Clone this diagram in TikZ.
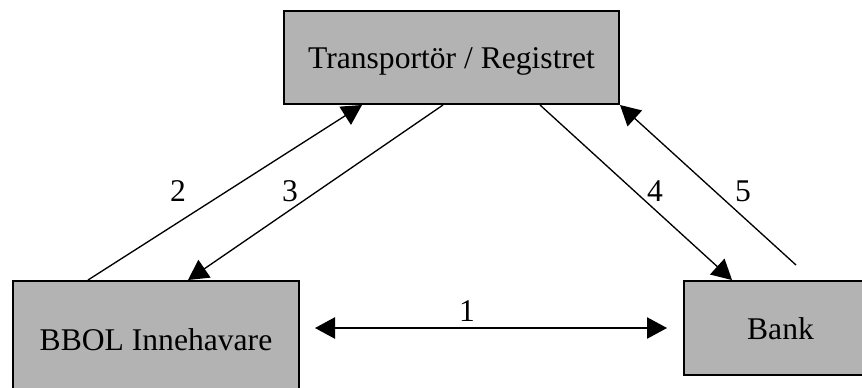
\documentclass[tikz,border=0pt]{standalone}
\usepackage{fontspec}
\setmainfont{Liberation Serif}
\usetikzlibrary{arrows.meta,calc}
\definecolor{boxgray}{RGB}{179,179,179}
\begin{document}
\begin{tikzpicture}[x=0.75pt,y=-0.75pt,
  box/.style={draw,line width=1.5pt,fill=boxgray,inner sep=0pt,anchor=north west,
    text height=16.5pt,text depth=-0.5pt,
    font=\fontsize{23.7pt}{28pt}\selectfont},
  conn/.style={line width=1pt,-{Triangle[length=15pt,width=16pt]}},
  biconn/.style={line width=1pt,{Triangle[length=15pt,width=16pt]}-{Triangle[length=15pt,width=16pt]}},
  lbl/.style={font=\fontsize{23.7pt}{28pt}\selectfont,inner sep=0pt,anchor=base}]
\clip (0,0) rectangle (862,387);
\node[box,minimum width=251.25pt,minimum height=69.75pt] (T) at (283,10) {Transportör / Registret};
\node[box,minimum width=214.5pt,minimum height=87pt] (L) at (12,280) {BBOL Innehavare};
\node[box,minimum width=144.75pt,minimum height=70.5pt] (R) at (683,280) {Bank};
\coordinate (c5) at (796,265);
\coordinate (c1a) at (315,328);
\coordinate (c1b) at (667,328);
\draw[conn] ($(L.north west)+(76,0)$) -- ($(T.south west)+(79,0)$);
\draw[conn] ($(T.south west)+(160,0)$) -- ($(L.north west)+(176,0)$);
\draw[conn] ($(T.south west)+(257,0)$) -- ($(R.north west)+(49,0)$);
\draw[conn] (c5) -- (T.south east);
\draw[biconn] (c1a) -- (c1b);
\node[lbl] (n1) at (467,321) {1};
\node[lbl] (n2) at (178,201) {2};
\node[lbl] (n3) at (290,201) {3};
\node[lbl] (n4) at (655,201) {4};
\node[lbl] (n5) at (743,201) {5};
\end{tikzpicture}
\end{document}
